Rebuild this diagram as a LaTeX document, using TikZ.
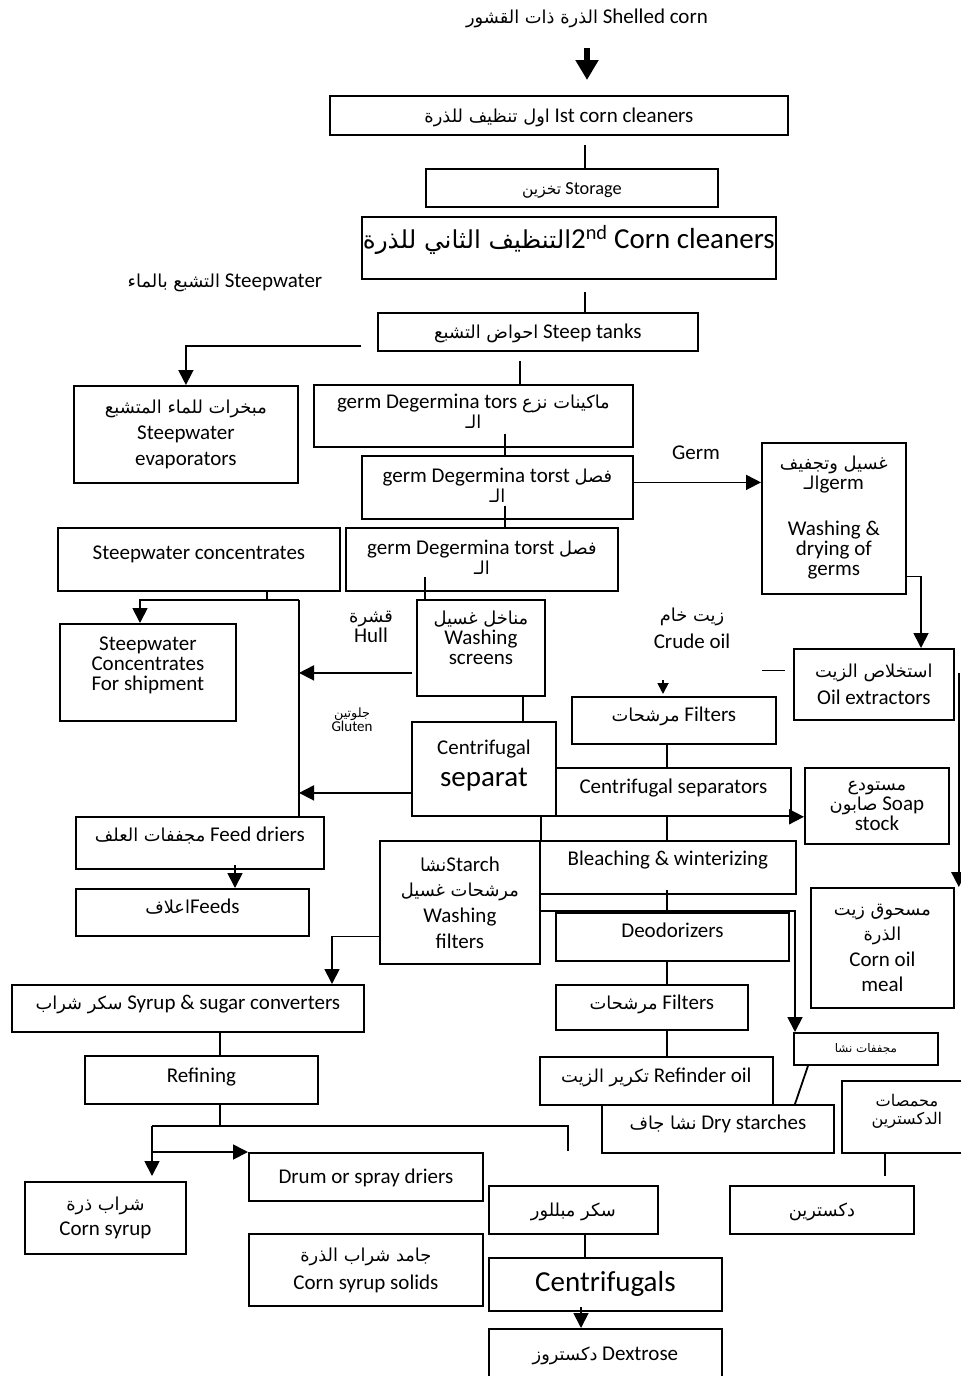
\documentclass[tikz,border=0pt]{standalone}
\usepackage{fontspec}
\setmainfont{Carlito}
\newfontfamily\arfont[Script=Arabic,Scale=0.85]{DejaVu Sans}
\TeXXeTstate=1
\newcommand\ar[1]{{\arfont\beginR #1\endR}}
\usetikzlibrary{arrows.meta}
\lineskiplimit=-100pt

\tikzset{
  box/.style={draw, line width=1.8pt, anchor=north west, inner sep=1pt, align=center,
    font=\fontsize{21}{25.6}\selectfont},
  sz/.style 2 args={minimum width=#1pt, minimum height=#2pt},
  one/.style={text height=15pt, text depth=#1},
  one/.default=1.4pt,
  tight/.style={font=\fontsize{21}{20}\selectfont},
  big/.style={font=\fontsize{29}{32}\selectfont},
  lbl/.style={align=center, font=\fontsize{21}{25.6}\selectfont},
  flow/.style={line width=1.8pt},
  arr/.style={flow, -{Triangle[length=15pt,width=15pt]}},
  smallarr/.style={flow, -{Triangle[length=11pt,width=11pt]}},
  bigarr/.style={line width=6pt, -{Triangle[length=20pt,width=22pt]}},
}

\begin{document}
\begin{tikzpicture}[x=1pt,y=-1pt]
\useasboundingbox (0,0) rectangle (961,1376);

% labels
\node[lbl] (title) at (587,18) {\ar{الذرة ذات القشور} Shelled corn};
\node[lbl] (swlbl) at (225,283) {\ar{التشبع بالماء} Steepwater};
\node[lbl] (germlbl) at (696,453) {Germ};
\node[lbl, font=\fontsize{21}{27}\selectfont] (crude) at (692,628) {\ar{زيت خام}\\ Crude oil};
\node[lbl, tight] (hull) at (371,627) {\ar{قشرة}\\ Hull};
\node[lbl, font=\fontsize{15}{14}\selectfont] (gluten) at (352,720) {\ar{جلوتين}\\ Gluten};

% cleaning and steeping
\node[box, sz={458}{39}, one] (clean1) at (329,95) {\ar{اول تنظيف للذرة} Ist corn cleaners};
\node[box, sz={292}{38}, one, font=\fontsize{18.3}{22}\selectfont] (storage) at (425,168) {\ar{تخزين} Storage};
\node[box, sz={404}{62}, big, text height=21pt, text depth=20pt] (clean2) at (361,216) {\ar{التنظيف الثاني للذرة}2\textsuperscript{nd} Corn cleaners};
\node[box, sz={320}{38}, one] (steep) at (377,312) {\ar{احواض التشبع} Steep tanks};
\node[box, sz={224}{97}] (evap) at (73,385) {\ar{مبخرات للماء المتشبع}\\ Steepwater\\ evaporators};

% degerminating
\node[box, sz={319}{62}, tight] (degerm1) at (313,384) {germ Degermina tors \ar{ماكينات نزع}\\ \ar{الـ}\\[-10pt] \mbox{}};
\node[box, sz={271}{63}, tight] (degerm2) at (361,455) {germ Degermina torst \ar{فصل}\\ \ar{الـ}\\[-15pt] \mbox{}};
\node[box, sz={272}{63}, tight] (degerm3) at (345,527) {germ Degermina torst \ar{فصل}\\ \ar{الـ}\\[-15pt] \mbox{}};
\node[box, sz={282}{63}, one=14.5pt] (conc) at (57,527) {Steepwater concentrates};
\node[box, sz={144}{151}, tight] (germwash) at (761,442) {\ar{غسيل وتجفيف}\\ \ar{الـ}germ\\[26pt] Washing \&\\ drying of\\ germs\\[-14pt] \mbox{}};
\node[box, sz={176}{97}, tight] (ship) at (59,623) {Steepwater\\ Concentrates\\ For shipment\\[-2.5pt] \mbox{}};
\node[box, sz={128}{96}, tight] (screens) at (416,599) {\ar{مناخل غسيل}\\ Washing\\ screens\\ \mbox{}};
\node[box, sz={144}{94}] (separat) at (411,721) {Centrifugal\\[6pt] {\fontsize{29}{30}\selectfont separat}\\[-13.6pt] \mbox{}};

% oil line
\node[box, sz={160}{71}, font=\fontsize{21}{27}\selectfont] (oilext) at (793,648) {\ar{استخلاص الزيت}\\ Oil extractors};
\node[box, sz={204}{47}, one=12.5pt] (filters1) at (571,696) {\ar{مرشحات} Filters};
\node[box, sz={235}{48}, one=11.5pt] (centsep) at (555,767) {Centrifugal separators};
\node[box, sz={144}{76}, tight] (soap) at (804,767) {\ar{مستودع}\\ \ar{صابون} Soap\\ stock};
\node[box, sz={256}{53}, one=18.5pt] (bleach) at (539,840) {Bleaching \& winterizing};
\node[box, sz={233}{48}, one=13.5pt] (deodor) at (555,912) {Deodorizers};
\node[box, sz={192}{45}, one=10.5pt] (filters2) at (555,984) {\ar{مرشحات} Filters};
\node[box, sz={233}{48}, one=11.5pt] (refoil) at (539,1056) {\ar{تكرير الزيت} Refinder oil};
\node[box, sz={143}{120}] (cornmeal) at (810,887) {\ar{مسحوق زيت}\\ \ar{الذرة}\\ Corn oil\\ meal};

% feeds
\node[box, sz={248}{52}, one=17.5pt] (feeddry) at (75,816) {\ar{مجففات العلف} Feed driers};
\node[box, sz={233}{47}, one=12.5pt] (feeds) at (75,888) {\ar{اعلاف}Feeds};

% starch line
\node[box, sz={160}{123}] (starch) at (379,840) {\ar{نشا}Starch\\ \ar{مرشحات غسيل}\\ Washing\\ filters};
\node[box, sz={144}{32}, font=\fontsize{14}{16}\selectfont] (stdry) at (793,1032) {\ar{مجففات نشا}};
\node[box, sz={232}{48}, one=13.5pt] (drystarch) at (601,1104) {\ar{نشا جاف} Dry starches};
\node[box, sz={130}{72}, font=\fontsize{19}{18}\selectfont] (roast) at (841,1080) {\ar{محمصات}\\ \ar{الدكسترين}\\[-2pt] \mbox{}};
\node[box, sz={184}{48}, one] (dextrin) at (729,1185) {\ar{دكسترين}};

% syrup and sugar
\node[box, sz={352}{47}, one=12.5pt] (conv) at (11,984) {\ar{سكر شراب} Syrup \& sugar converters};
\node[box, sz={233}{48}, one=9.5pt] (refining) at (84,1055) {Refining};
\node[box, sz={161}{72}] (csyrup) at (24,1181) {\ar{شراب ذرة}\\ Corn syrup};
\node[box, sz={234}{48}, one] (drum) at (248,1152) {Drum or spray driers};
\node[box, sz={234}{72}, font=\fontsize{21}{28}\selectfont] (solids) at (248,1233) {\ar{جامد شراب الذرة}\\ Corn syrup solids};
\node[box, sz={169}{48}, one] (cryst) at (488,1185) {\ar{سكر مبللور}};
\node[box, sz={233}{53}, big, text height=21pt, text depth=7pt] (centrif) at (488,1257) {Centrifugals};
\node[box, sz={233}{57}, one=8.5pt] (dextrose) at (488,1328) {\ar{دكستروز} Dextrose};

% connectors, top part
\draw[bigarr, shorten >=15pt] (title.center |- 0,48) -- (title.center |- clean1.north);
\draw[flow, shorten <=9pt] (clean1.south -| 585,0) -- (storage.north -| 585,0);
\draw[flow, shorten <=12pt] (clean2.south -| 585,0) -- (steep.north -| 585,0);
\draw[arr] ([xshift=-16pt,yshift=-14pt]steep.west) -| (evap.north);
\draw[flow, shorten <=9pt] (steep.south -| 520,0) -- (degerm1.north -| 520,0);
\draw[flow] ([yshift=14pt]degerm1.south -| 505,0) -- (degerm2.north -| 505,0);
\draw[flow] ([yshift=14pt]degerm2.south -| 505,0) -- (degerm3.north -| 505,0);
\draw[flow] ([yshift=15pt]degerm3.south -| 425,0) -- (screens.north -| 425,0);
\draw[arr] ([yshift=5pt]degerm2.east) -- ([yshift=5pt]degerm2.east -| germwash.west);

% germ and oil
\draw[arr] ([yshift=-58pt]germwash.east) -| (oilext.north -| 921,0);
\draw[flow] ([xshift=-8pt,yshift=14pt]oilext.west) -- ++(-23,0);
\draw[arr] ([xshift=4pt,yshift=11pt]oilext.east) -- ([xshift=4pt]oilext.east |- cornmeal.north);
\coordinate (oilin) at (663,680);
\draw[smallarr, shorten >=2pt] (oilin) -- (filters1.north -| oilin);
\draw[flow] (filters1.south -| 667,0) -- (centsep.north -| 667,0);
\draw[arr] (centsep.south east) -- (centsep.south east -| soap.west);
\draw[flow] (centsep.south -| 667,0) -- (bleach.north -| 667,0);
\draw[flow] ([yshift=5pt]bleach.south -| 667,0) -- (deodor.north -| 667,0);
\draw[flow] (deodor.south -| 667,0) -- (filters2.north -| 667,0);
\draw[flow] (filters2.south -| 667,0) -- (refoil.north -| 667,0);

% hull, gluten and steepwater to feed
\coordinate (fd) at (299,600);
\draw[flow] (conc.south -| 267,0) -- (fd -| 267,0);
\draw[arr] (fd) -| (ship.north -| 140,0);
\draw[flow] (fd) -- (fd |- feeddry.north);
\draw[flow] (screens.south -| 523,0) -- (separat.north -| 523,0);
\draw[arr] ([xshift=-4pt,yshift=-25pt]screens.west) -- ([yshift=-25pt]screens.west -| fd);
\draw[arr] ([yshift=-24pt]separat.west) -- ([yshift=-24pt]separat.west -| fd);
\draw[arr] ([yshift=5pt]feeddry.south -| 235,0) -- (feeds.north -| 235,0);

% starch
\draw[flow] (separat.south -| starch.east) -- (starch.north east);
\draw[arr] (starch.east |- 0,911) -| (stdry.north -| 795,0);
\draw[flow] (stdry.south -| 808,0) -- (drystarch.north -| 795,0);
\draw[flow, shorten >=9pt] (roast.south -| 885,0) -- (dextrin.north -| 885,0);
\draw[arr] ([yshift=-34pt]starch.west) -| (conv.north -| 332,0);

% syrup
\draw[flow] (conv.south -| 220,0) -- (refining.north -| 220,0);
\coordinate (rl) at (152,1126);
\draw[flow] (refining.south -| 220,0) -- (rl -| 220,0);
\draw[flow] (rl) -| ([yshift=34pt]cryst.north -| 568,0);
\draw[arr, shorten >=5pt] (rl) -- (csyrup.north -| rl);
\draw[arr] (drum.north west -| rl) -- (drum.north west);
\draw[flow] (cryst.south -| 585,0) -- (centrif.north -| 585,0);
\draw[arr] ([yshift=5pt]centrif.south -| 581,0) -- (dextrose.north -| 581,0);
\end{tikzpicture}
\end{document}
